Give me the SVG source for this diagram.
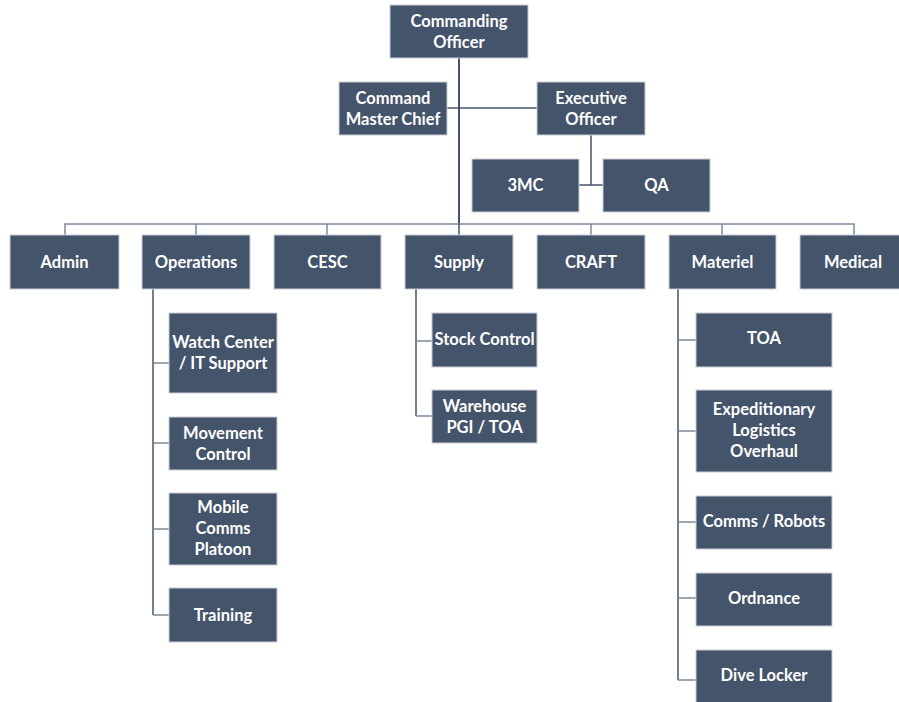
<svg xmlns="http://www.w3.org/2000/svg" width="899" height="702" viewBox="0 0 899 702">
<style>
.b{fill:#44546A;stroke:#C9CED6;stroke-width:1}
.t{font-family:Lato,"Liberation Sans",sans-serif;font-weight:bold;font-size:16.5px;fill:#FFFFFF;text-anchor:middle}
.c{fill:none;stroke:#44546A;stroke-width:1.5}
.l{fill:none;stroke:#7D899A;stroke-width:1.5}
</style>
<rect width="899" height="702" fill="#FFFFFF"/>
<g id="connectors">
<path class="c" d="M459 58V224" style="stroke-width:2"/>
<path class="c" d="M447 108H537"/>
<path class="c" d="M591 135V185M579 185H603"/>
<path class="l" d="M65 235V224H854V235M196 224V235M327 224V235M591 224V235M722 224V235"/>
<path class="c" d="M459 224V235"/>
<path class="c" d="M153 289V615"/>
<path class="l" d="M153 363H169M153 443H169M153 529H169M153 615H169"/>
<path class="c" d="M416 289V416"/>
<path class="l" d="M416 341H432M416 416H432"/>
<path class="c" d="M678 289V680"/>
<path class="l" d="M678 340H696M678 431H696M678 522H696M678 598H696M678 680H696"/>
</g>
<g id="n-co"><rect class="b" x="390" y="5" width="138" height="53"/><text class="t" x="459" y="27">Commanding</text><text class="t" x="459" y="48">Officer</text></g>
<g id="n-cmc"><rect class="b" x="339" y="82" width="108" height="53"/><text class="t" x="393" y="104">Command</text><text class="t" x="393" y="125">Master Chief</text></g>
<g id="n-xo"><rect class="b" x="537" y="82" width="108" height="53"/><text class="t" x="591" y="104">Executive</text><text class="t" x="591" y="125">Officer</text></g>
<g id="n-3mc"><rect class="b" x="472" y="159" width="107" height="53"/><text class="t" x="525.5" y="191">3MC</text></g>
<g id="n-qa"><rect class="b" x="603" y="159" width="107" height="53"/><text class="t" x="656.5" y="191">QA</text></g>
<g id="n-admin"><rect class="b" x="10" y="235" width="109" height="54"/><text class="t" x="64.5" y="268">Admin</text></g>
<g id="n-ops"><rect class="b" x="142" y="235" width="108" height="54"/><text class="t" x="196" y="268">Operations</text></g>
<g id="n-cesc"><rect class="b" x="274" y="235" width="107" height="54"/><text class="t" x="327.5" y="268">CESC</text></g>
<g id="n-supply"><rect class="b" x="405" y="235" width="108" height="54"/><text class="t" x="459" y="268">Supply</text></g>
<g id="n-craft"><rect class="b" x="537" y="235" width="108" height="54"/><text class="t" x="591" y="268">CRAFT</text></g>
<g id="n-materiel"><rect class="b" x="669" y="235" width="107" height="54"/><text class="t" x="722.5" y="268">Materiel</text></g>
<g id="n-medical"><rect class="b" x="800" y="235" width="108" height="54"/><text class="t" x="853" y="268">Medical</text></g>
<g id="n-watch"><rect class="b" x="169" y="313" width="108" height="80"/><text class="t" x="223" y="348">Watch Center</text><text class="t" x="223" y="369">/ IT Support</text></g>
<g id="n-move"><rect class="b" x="169" y="417" width="108" height="53"/><text class="t" x="223" y="439">Movement</text><text class="t" x="223" y="460">Control</text></g>
<g id="n-mobile"><rect class="b" x="169" y="493" width="108" height="72"/><text class="t" x="223" y="513">Mobile</text><text class="t" x="223" y="534">Comms</text><text class="t" x="223" y="555">Platoon</text></g>
<g id="n-training"><rect class="b" x="169" y="588" width="108" height="54"/><text class="t" x="223" y="621">Training</text></g>
<g id="n-stock"><rect class="b" x="432" y="313" width="105" height="54"/><text class="t" x="484.5" y="345">Stock Control</text></g>
<g id="n-warehouse"><rect class="b" x="432" y="390" width="105" height="53"/><text class="t" x="484.5" y="412">Warehouse</text><text class="t" x="484.5" y="433">PGI / TOA</text></g>
<g id="n-toa"><rect class="b" x="696" y="313" width="136" height="54"/><text class="t" x="764" y="344">TOA</text></g>
<g id="n-exped"><rect class="b" x="696" y="390" width="136" height="82"/><text class="t" x="764" y="415">Expeditionary</text><text class="t" x="764" y="436">Logistics</text><text class="t" x="764" y="457">Overhaul</text></g>
<g id="n-comms"><rect class="b" x="696" y="496" width="136" height="53"/><text class="t" x="764" y="527">Comms / Robots</text></g>
<g id="n-ord"><rect class="b" x="696" y="573" width="136" height="53"/><text class="t" x="764" y="604">Ordnance</text></g>
<g id="n-dive"><rect class="b" x="696" y="650" width="136" height="53"/><text class="t" x="764" y="681">Dive Locker</text></g>
</svg>
